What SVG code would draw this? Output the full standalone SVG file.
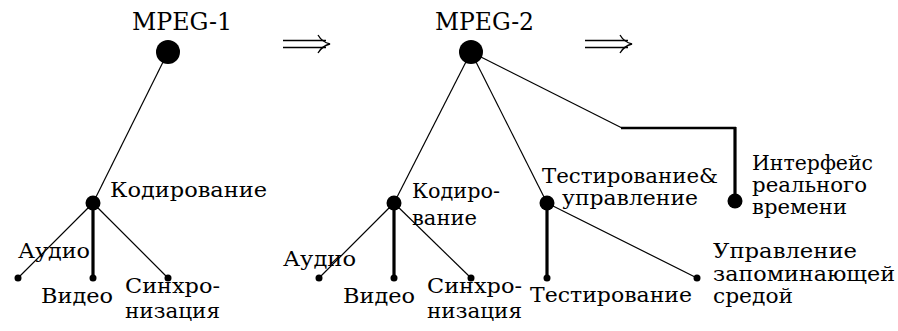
<svg xmlns="http://www.w3.org/2000/svg" width="898" height="331" viewBox="0 0 898 331">
<style>
text{font-family:"DejaVu Serif","Liberation Serif",serif;fill:#000}
.t{font-size:21px}
.h{font-size:25px}
.thin{stroke:#000;stroke-width:1.2;fill:none}
.thick{stroke:#000;stroke-width:3.2;fill:none}
.med{stroke:#000;stroke-width:2.6;fill:none}
.arr{stroke:#000;stroke-width:1.3;fill:none}
circle{fill:#000}
</style>
<rect width="898" height="331" fill="#fff"/>
<g id="connectors">
<line class="thin" x1="168" y1="52" x2="93" y2="203"/>
<line class="thin" x1="93" y1="203" x2="18" y2="278"/>
<line class="thick" x1="93" y1="203" x2="93" y2="278"/>
<line class="thin" x1="93" y1="203" x2="168" y2="278"/>
<line class="thin" x1="471" y1="52" x2="394" y2="203"/>
<line class="thin" x1="394" y1="203" x2="319" y2="278"/>
<line class="thick" x1="394" y1="203" x2="394" y2="278"/>
<line class="thin" x1="394" y1="203" x2="471" y2="278"/>
<line class="thin" x1="471" y1="52" x2="547" y2="203"/>
<line class="thick" x1="547" y1="203" x2="547" y2="278"/>
<line class="thin" x1="547" y1="203" x2="697" y2="278"/>
<line class="thin" x1="471" y1="52" x2="622" y2="128"/>
<line class="med" x1="621" y1="128" x2="736" y2="128"/>
<line class="thick" x1="735" y1="127" x2="735" y2="201"/>
</g>
<g id="arrow1">
<line class="arr" x1="283" y1="40.5" x2="326" y2="40.5"/>
<line class="arr" x1="283" y1="47.5" x2="326" y2="47.5"/>
<path class="arr" d="M318,35 Q322,42 330,44 Q322,46 318,53"/>
</g>
<g id="arrow2">
<line class="arr" x1="585" y1="40.5" x2="628" y2="40.5"/>
<line class="arr" x1="585" y1="47.5" x2="628" y2="47.5"/>
<path class="arr" d="M620,35 Q624,42 632,44 Q624,46 620,53"/>
</g>
<g id="mpeg1">
<circle cx="168" cy="52" r="12"/>
<text class="h" x="132" y="30" textLength="100" lengthAdjust="spacingAndGlyphs">MPEG-1</text>
</g>
<g id="kod1">
<circle cx="93" cy="203" r="7.5"/>
<text class="t" x="110" y="197" textLength="157" lengthAdjust="spacingAndGlyphs">Кодирование</text>
</g>
<g id="audio1">
<circle cx="18" cy="278" r="3.5"/>
<text class="t" x="18" y="258" textLength="72" lengthAdjust="spacingAndGlyphs">Аудио</text>
</g>
<g id="video1">
<circle cx="93" cy="278" r="3.5"/>
<text class="t" x="41" y="303" textLength="72" lengthAdjust="spacingAndGlyphs">Видео</text>
</g>
<g id="sync1">
<circle cx="168" cy="278" r="3.5"/>
<text class="t" x="125" y="293" textLength="95" lengthAdjust="spacingAndGlyphs">Синхро-</text>
<text class="t" x="125" y="318" textLength="95" lengthAdjust="spacingAndGlyphs">низация</text>
</g>
<g id="mpeg2">
<circle cx="471" cy="52" r="12"/>
<text class="h" x="435" y="30" textLength="99" lengthAdjust="spacingAndGlyphs">MPEG-2</text>
</g>
<g id="kod2">
<circle cx="394" cy="203" r="7.5"/>
<text class="t" x="412" y="198" textLength="88" lengthAdjust="spacingAndGlyphs">Кодиро-</text>
<text class="t" x="412" y="225" textLength="65" lengthAdjust="spacingAndGlyphs">вание</text>
</g>
<g id="audio2">
<circle cx="319" cy="278" r="3.5"/>
<text class="t" x="283" y="266" textLength="73" lengthAdjust="spacingAndGlyphs">Аудио</text>
</g>
<g id="video2">
<circle cx="394" cy="278" r="3.5"/>
<text class="t" x="343" y="303" textLength="72" lengthAdjust="spacingAndGlyphs">Видео</text>
</g>
<g id="sync2">
<circle cx="471" cy="278" r="3.5"/>
<text class="t" x="427" y="293" textLength="95" lengthAdjust="spacingAndGlyphs">Синхро-</text>
<text class="t" x="427" y="318" textLength="95" lengthAdjust="spacingAndGlyphs">низация</text>
</g>
<g id="testctrl">
<circle cx="547" cy="203" r="7.5"/>
<text class="t" x="542" y="183" textLength="176" lengthAdjust="spacingAndGlyphs">Тестирование&amp;</text>
<text class="t" x="562" y="205" textLength="136" lengthAdjust="spacingAndGlyphs">управление</text>
</g>
<g id="test">
<circle cx="547" cy="278" r="3.5"/>
<text class="t" x="530" y="302" textLength="162" lengthAdjust="spacingAndGlyphs">Тестирование</text>
</g>
<g id="storage">
<circle cx="697" cy="278" r="3.5"/>
<text class="t" x="713" y="258" textLength="144" lengthAdjust="spacingAndGlyphs">Управление</text>
<text class="t" x="713" y="281" textLength="182" lengthAdjust="spacingAndGlyphs">запоминающей</text>
<text class="t" x="713" y="303" textLength="80" lengthAdjust="spacingAndGlyphs">средой</text>
</g>
<g id="realtime">
<circle cx="735" cy="201" r="7.5"/>
<text class="t" x="752" y="170" textLength="121" lengthAdjust="spacingAndGlyphs">Интерфейс</text>
<text class="t" x="752" y="192" textLength="115" lengthAdjust="spacingAndGlyphs">реального</text>
<text class="t" x="752" y="214" textLength="95" lengthAdjust="spacingAndGlyphs">времени</text>
</g>
</svg>
